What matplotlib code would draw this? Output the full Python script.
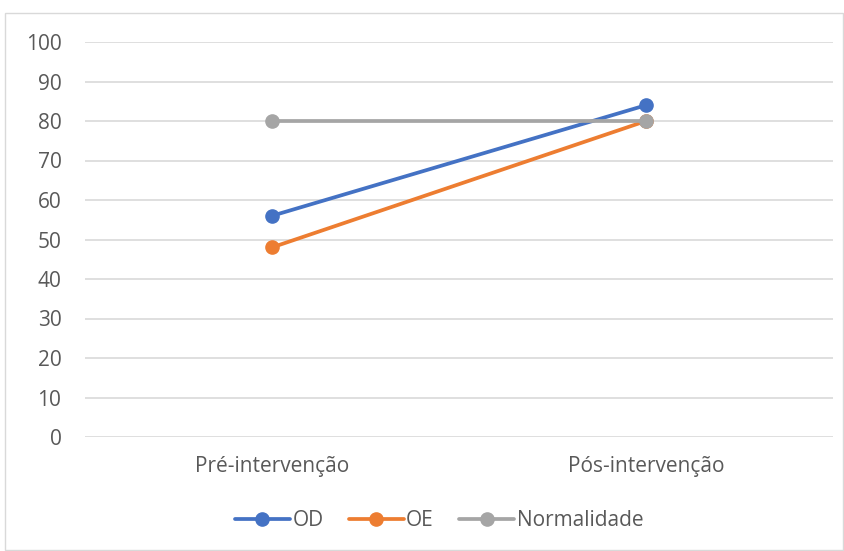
import matplotlib.pyplot as plt
from matplotlib.patches import Rectangle

categorias = ["Pré-intervenção", "Pós-intervenção"]
od = [56, 84]
oe = [48, 80]
normalidade = [80, 80]

series = [
    ("OD", od, "#4472C4"),
    ("OE", oe, "#ED7D31"),
    ("Normalidade", normalidade, "#A5A5A5"),
]

plt.rcParams["font.family"] = ["Open Sans", "DejaVu Sans"]
texto = "#595959"

fig = plt.figure(figsize=(8.45, 5.51), dpi=100)
ax = fig.add_axes([85 / 845, 1 - 437 / 551, 748 / 845, 395 / 551])

x = list(range(len(categorias)))
for nome, valores, cor in series:
    ax.plot(x, valores, color=cor, lw=2.7, marker="o", ms=9.5,
            solid_capstyle="round", label=nome, zorder=3)

ax.set_xlim(-0.5, 1.5)
ax.set_ylim(0, 100)
ax.set_yticks(range(0, 101, 10))
ax.set_xticks(x)
ax.set_xticklabels(categorias)
ax.grid(axis="y", color="#D9D9D9", lw=1.2)
ax.set_axisbelow(True)
for s in ax.spines.values():
    s.set_visible(False)
ax.tick_params(length=0, labelsize=15, colors=texto)
ax.tick_params(axis="y", pad=17)
ax.tick_params(axis="x", pad=14)

leg = fig.legend(loc="center", bbox_to_anchor=(439 / 845, 1 - 521 / 551), ncol=3,
                 frameon=False, fontsize=15, handlelength=2.65,
                 columnspacing=1.2, handletextpad=0.12)
for t in leg.get_texts():
    t.set_color(texto)

# borda do gráfico
fig.patches.append(Rectangle((5 / 845, 1 / 551), 838 / 845, 537 / 551,
                             transform=fig.transFigure, fill=False,
                             edgecolor="#D9D9D9", lw=1))

fig.savefig("out.png", dpi=100)
